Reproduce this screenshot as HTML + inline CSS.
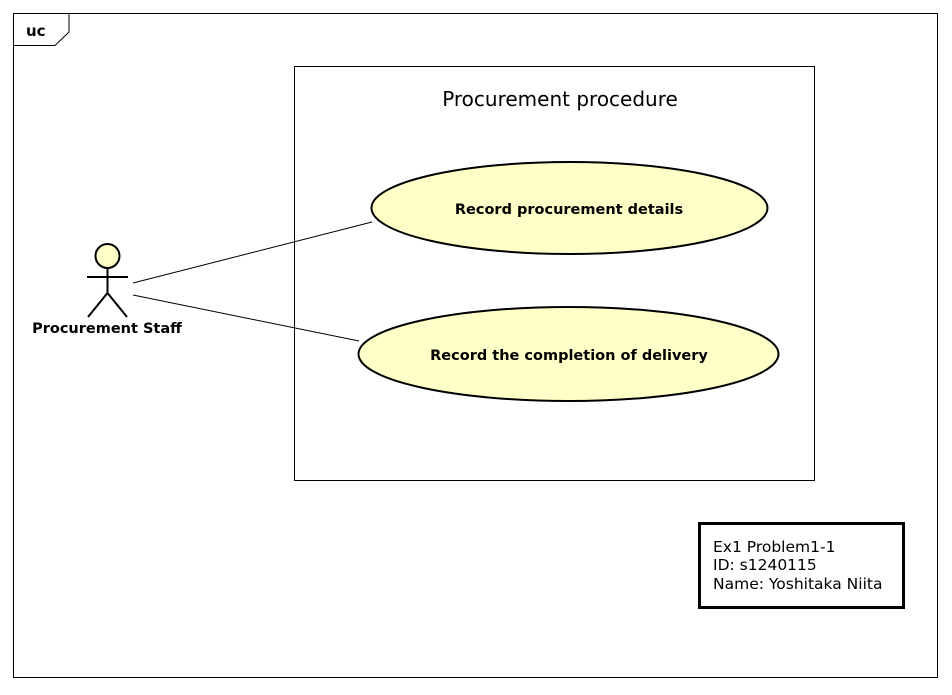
<!DOCTYPE html>
<html><head><style>body{margin:0;background:#fff}</style></head><body>
<svg width="952" height="690" xmlns="http://www.w3.org/2000/svg" font-family="'DejaVu Sans','Liberation Sans',sans-serif">
<rect x="0" y="0" width="952" height="690" fill="#fff"/>
<rect x="13.5" y="13.5" width="924" height="664" fill="none" stroke="#000" stroke-width="1"/>
<polyline points="13.5,45.5 55,45.5 69,32 69,13.5" fill="none" stroke="#000"/>
<text x="26" y="36" font-size="15" font-weight="bold">uc</text>
<rect x="294.5" y="66.5" width="520" height="414" fill="#fff" stroke="#000"/>
<text x="560" y="106" font-size="20" text-anchor="middle">Procurement procedure</text>
<line x1="133" y1="283" x2="372" y2="222" stroke="#000"/>
<line x1="133" y1="295" x2="359" y2="341" stroke="#000"/>
<ellipse cx="569.5" cy="208" rx="198" ry="46" fill="#ffffc8" stroke="#000" stroke-width="2"/>
<text x="569" y="214" font-size="14.5" font-weight="bold" text-anchor="middle">Record procurement details</text>
<ellipse cx="568.5" cy="354" rx="210" ry="47" fill="#ffffc8" stroke="#000" stroke-width="2"/>
<text x="569" y="360" font-size="14.5" font-weight="bold" text-anchor="middle">Record the completion of delivery</text>
<circle cx="107.5" cy="256" r="12" fill="#ffffc8" stroke="#000" stroke-width="2"/>
<line x1="107.5" y1="268" x2="107.5" y2="293" stroke="#000" stroke-width="2"/>
<line x1="87" y1="277" x2="128" y2="277" stroke="#000" stroke-width="2"/>
<polyline points="88,317 107.5,293 127,317" fill="none" stroke="#000" stroke-width="2"/>
<text x="107" y="333" font-size="14.5" font-weight="bold" text-anchor="middle">Procurement Staff</text>
<rect x="699.5" y="523.5" width="204" height="84" fill="#fff" stroke="#000" stroke-width="3"/>
<text font-size="15.5"><tspan x="713" y="552">Ex1 Problem1-1</tspan><tspan x="713" y="570">ID: s1240115</tspan><tspan x="713" y="589">Name: Yoshitaka Niita</tspan></text>
</svg>
</body></html>
